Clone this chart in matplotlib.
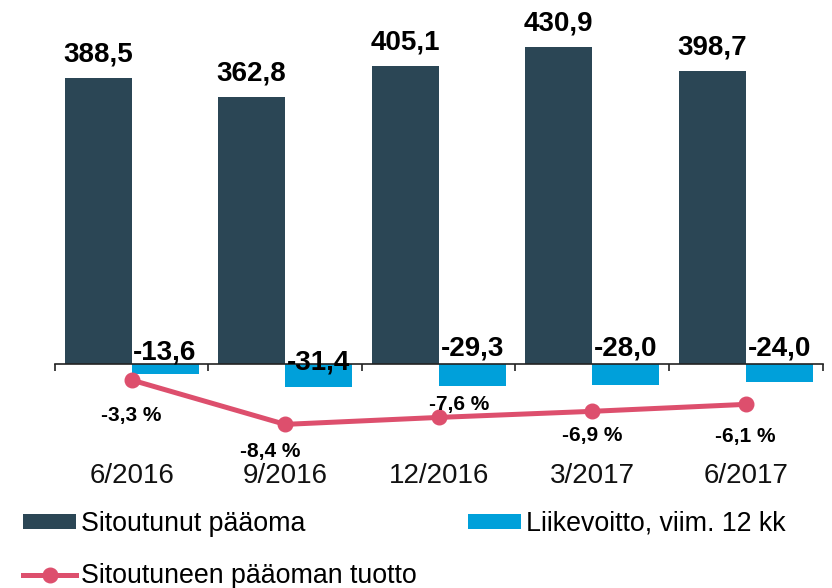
import matplotlib
matplotlib.use("Agg")
import matplotlib.pyplot as plt
from matplotlib.patches import Patch
from matplotlib.lines import Line2D
import numpy as np

plt.rcParams['font.family'] = ['Liberation Sans', 'DejaVu Sans']

categories = ["6/2016", "9/2016", "12/2016", "3/2017", "6/2017"]
capital = [388.5, 362.8, 405.1, 430.9, 398.7]
ebit = [-13.6, -31.4, -29.3, -28.0, -24.0]
roce = [-3.3, -8.4, -7.6, -6.9, -6.1]

capital_labels = ["388,5", "362,8", "405,1", "430,9", "398,7"]
ebit_labels = ["-13,6", "-31,4", "-29,3", "-28,0", "-24,0"]
roce_labels = ["-3,3 %", "-8,4 %", "-7,6 %", "-6,9 %", "-6,1 %"]

# label offsets in pixels (styling)
ebit_label_dy = [4, -5, 9, 9, 9]
roce_label_off = [(0, -41), (-15, -33), (20, 7), (0, -30), (0, -38)]

C_DARK = "#2B4655"
C_CYAN = "#00A0DA"
C_PINK = "#DD4F6D"

W, H = 832, 588
fig = plt.figure(figsize=(W / 100, H / 100), dpi=100)
ax_left, ax_right, ax_top, ax_bot = 54.8, 822.5, 10, 450
ax = fig.add_axes([ax_left / W, 1 - ax_bot / H, (ax_right - ax_left) / W, (ax_bot - ax_top) / H])

x = np.arange(len(categories))
bw = 0.436
ax.bar(x - bw / 2, capital, width=bw, color=C_DARK, zorder=1)
ax.bar(x + bw / 2, ebit, width=bw, color=C_CYAN, zorder=1)

base_px = 364
scale = 0.735
ax.set_ylim(-(ax_bot - base_px) / scale, (base_px - ax_top) / scale)
ax.set_xlim(-0.5, len(categories) - 0.5)

for s in ["top", "right", "left"]:
    ax.spines[s].set_visible(False)
ax.spines["bottom"].set_position(("data", 0))
ax.spines["bottom"].set_color("#222222")
ax.spines["bottom"].set_linewidth(1.2)
ax.set_yticks([])
ax.set_xticks(np.arange(len(categories) + 1) - 0.5)
ax.set_xticklabels([])
ax.tick_params(axis="x", direction="out", length=5, width=1.2, color="#222222")

for i, cat in enumerate(categories):
    ax.text(i, -0.075, cat, transform=ax.get_xaxis_transform(), ha="center",
            va="baseline", fontsize=20, color="#111111")

for i, (v, lab) in enumerate(zip(capital, capital_labels)):
    ax.annotate(lab, (i - bw / 2, v), xytext=(0, 16.6), textcoords="offset pixels",
                ha="center", va="baseline", fontsize=20, fontweight="bold", color="black")

for i, (lab, dy) in enumerate(zip(ebit_labels, ebit_label_dy)):
    ax.annotate(lab, (i + bw / 2, 0), xytext=(0, dy), textcoords="offset pixels",
                ha="center", va="baseline", fontsize=20, fontweight="bold", color="black",
                zorder=3)

ax2 = ax.twinx()
ax2.set_position(ax.get_position())
zero2 = 351.3
scale2 = 8.7
ax2.set_ylim(-(ax_bot - zero2) / scale2, (zero2 - ax_top) / scale2)
ax2.axis("off")
ax2.plot(x, roce, color=C_PINK, lw=3.6, marker="o", markersize=10.5, zorder=3)

for i, (v, lab, off) in enumerate(zip(roce, roce_labels, roce_label_off)):
    ax2.annotate(lab, (i, v), xytext=off, textcoords="offset pixels",
                 ha="center", va="baseline", fontsize=15, fontweight="bold", color="black")

h_dark = Patch(facecolor=C_DARK, edgecolor="none")
h_cyan = Patch(facecolor=C_CYAN, edgecolor="none")
h_line = Line2D([], [], color=C_PINK, lw=3.6, marker="o", markersize=10.5)

fs_leg = 19.3
leg_kw = dict(frameon=False, fontsize=fs_leg, handlelength=1.98, handleheight=0.52,
              handletextpad=0.19, labelspacing=0.98, borderpad=0, borderaxespad=0,
              loc="upper left")
leg1 = fig.legend([h_dark, h_line], ["Sitoutunut pääoma", "Sitoutuneen pääoman tuotto"],
                  bbox_to_anchor=(23 / W, 1 - 511 / H), **leg_kw)
leg2 = fig.legend([h_cyan], ["Liikevoitto, viim. 12 kk"],
                  bbox_to_anchor=(468 / W, 1 - 511 / H), **leg_kw)

fig.savefig("out.png", dpi=100)
